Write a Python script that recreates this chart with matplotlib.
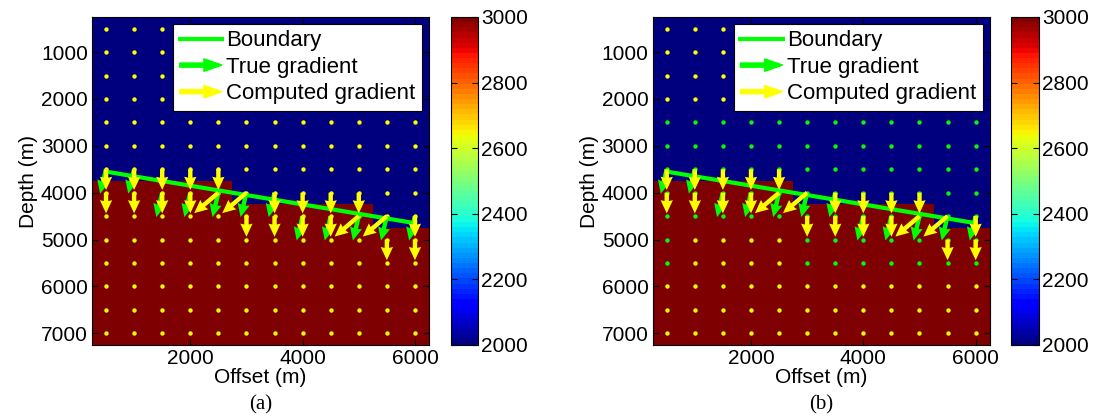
import numpy as np
import matplotlib
matplotlib.use('Agg')
import matplotlib.pyplot as plt
import matplotlib.patches as mpatches
from matplotlib.lines import Line2D
from matplotlib.legend_handler import HandlerPatch

plt.rcParams['font.family'] = ['Liberation Sans', 'DejaVu Sans']

# model grid (m)
offsets = [500, 1000, 1500, 2000, 2500, 3000, 3500, 4000, 4500, 5000, 5500, 6000]
depths = [500, 1000, 1500, 2000, 2500, 3000, 3500, 4000, 4500, 5000, 5500, 6000, 6500, 7000]
# depth of the top of the fast layer in each column
layer_top = [3750, 3750, 3750, 3750, 3750, 4250, 4250, 4250, 4250, 4250, 4750, 4750]
v_slow = 2000
v_fast = 3000

# dipping boundary
boundary_x = [500, 6000]
boundary_z = [3550, 4650]

# true gradient (normal to the boundary)
true_x = [500, 1000, 1500, 2000, 2500, 3000, 3500, 4000, 4500, 5000, 5500, 6000]
true_z = [3500, 3500, 4000, 4000, 4000, 4000, 4000, 4500, 4500, 4500, 4500, 4500]
true_u = [-105, -105, -105, -105, -105, -105, -105, -105, -105, -105, -105, -105]
true_w = [520, 520, 520, 520, 520, 520, 520, 520, 520, 520, 520, 520]

# computed gradient
comp_x = [500, 500, 1000, 1000, 1500, 1500, 2000, 2000, 2500, 2500, 3000, 3000,
          3500, 3500, 4000, 4000, 4500, 4500, 5000, 5000, 5500, 5500, 6000, 6000]
comp_z = [3500, 4000, 3500, 4000, 3500, 4000, 3500, 4000, 3500, 4000, 4000, 4500,
          4000, 4500, 4000, 4500, 4000, 4500, 4000, 4500, 4500, 5000, 4500, 5000]
comp_u = [0, 0, 0, 0, 0, 0, 0, 0, 0, -430, -430, 0,
          0, 0, 0, 0, 0, 0, 0, -430, -430, 0, 0, 0]
comp_w = [440, 440, 440, 440, 440, 440, 440, 440, 440, 435, 435, 440,
          440, 440, 440, 440, 440, 440, 440, 435, 435, 440, 440, 440]

# grid points shown green in panel (b)
green_dots_b = [
    [0, 0, 0, 0, 0, 0, 0, 0, 0, 0, 0, 0],
    [0, 0, 0, 0, 0, 0, 0, 0, 0, 0, 0, 0],
    [0, 0, 0, 0, 0, 0, 0, 0, 0, 0, 0, 0],
    [0, 0, 0, 0, 0, 0, 0, 0, 0, 0, 0, 0],
    [1, 1, 1, 1, 1, 1, 1, 1, 1, 1, 1, 1],
    [1, 1, 1, 1, 1, 1, 1, 1, 1, 1, 1, 1],
    [1, 1, 1, 1, 1, 1, 1, 1, 1, 1, 1, 1],
    [1, 1, 1, 1, 1, 1, 1, 1, 1, 1, 1, 1],
    [1, 1, 1, 1, 1, 1, 1, 1, 1, 1, 1, 1],
    [1, 0, 0, 0, 0, 1, 1, 1, 1, 1, 1, 1],
    [1, 0, 0, 0, 0, 1, 1, 1, 1, 1, 1, 1],
    [0, 0, 0, 0, 0, 0, 0, 0, 0, 0, 0, 0],
    [0, 0, 0, 0, 0, 0, 0, 0, 0, 0, 0, 0],
    [0, 0, 0, 0, 0, 0, 0, 0, 0, 0, 0, 0],
]
green_dots_a = np.zeros((len(depths), len(offsets)), dtype=int)

YELLOW = '#ffff00'
GREEN = '#00ff00'
FS = 15

W, H = 1095, 420
fig = plt.figure(figsize=(W / 100, H / 100), dpi=100)

model = np.where(np.array(depths)[:, None] > np.array(layer_top)[None, :], v_fast, v_slow)
cmap = plt.get_cmap('jet', 64)
xx, zz = np.meshgrid(offsets, depths)


def arrow_patch(legend, orig_handle, xdescent, ydescent, width, height, fontsize):
    return mpatches.FancyArrow(0, height / 2, width, 0, width=3.0, head_width=9,
                               head_length=13, length_includes_head=True)


def panel(x0, green_mask, label):
    ax = fig.add_axes([x0 / W, 1 - 345 / H, 337 / W, 328 / H])
    im = ax.imshow(model, cmap=cmap, vmin=2000, vmax=3000, aspect='auto',
                   extent=[250, 6250, 7250, 250], interpolation='nearest')
    mask = np.array(green_mask, dtype=bool)
    ax.scatter(xx[~mask], zz[~mask], s=10, color=YELLOW, linewidths=0, zorder=2)
    ax.scatter(xx[mask], zz[mask], s=10, color=GREEN, linewidths=0, zorder=2)
    ax.plot(boundary_x, boundary_z, color=GREEN, lw=3, zorder=3)
    ax.quiver(true_x, true_z, true_u, true_w, angles='xy', scale_units='xy', scale=1,
              color=GREEN, width=0.013, headwidth=2.8, headlength=3.0, headaxislength=2.8,
              zorder=4)
    ax.quiver(comp_x, comp_z, comp_u, comp_w, angles='xy', scale_units='xy', scale=1,
              color=YELLOW, width=0.013, headwidth=2.8, headlength=3.0, headaxislength=2.8,
              zorder=5)
    ax.set_xlim(250, 6250)
    ax.set_ylim(7250, 250)
    ax.set_xticks([2000, 4000, 6000])
    ax.set_yticks([1000, 2000, 3000, 4000, 5000, 6000, 7000])
    ax.tick_params(direction='in', top=True, right=True, length=4, labelsize=FS, pad=3)
    ax.set_xlabel('Offset (m)', fontsize=FS, labelpad=0)
    ax.set_ylabel('Depth (m)', fontsize=FS, labelpad=2)

    h_bound = Line2D([], [], color=GREEN, lw=3)
    h_true = mpatches.Patch(color=GREEN)
    h_comp = mpatches.Patch(color=YELLOW)
    leg = ax.legend([h_bound, h_true, h_comp], ['Boundary', 'True gradient', 'Computed gradient'],
                    loc='upper right', fontsize=16, handlelength=1.9, handletextpad=0.2,
                    labelspacing=0.25, borderpad=0.3, borderaxespad=0.3,
                    fancybox=False, framealpha=1, edgecolor='black',
                    handler_map={h_true: HandlerPatch(patch_func=arrow_patch),
                                 h_comp: HandlerPatch(patch_func=arrow_patch)})
    leg.get_frame().set_linewidth(0.8)
    leg.set_zorder(10)

    cax = fig.add_axes([(x0 + 358.7) / W, 1 - 345 / H, 27.6 / W, 328 / H])
    cb = fig.colorbar(im, cax=cax, ticks=[2000, 2200, 2400, 2600, 2800, 3000])
    cb.ax.tick_params(direction='in', left=True, right=True, length=4, labelsize=FS, pad=2)
    cb.outline.set_linewidth(0.8)

    fig.text((x0 + 168.5) / W, 1 - 405 / H, label, fontsize=FS,
             family='Liberation Serif', ha='center', va='center')


panel(92, green_dots_a, '(a)')
panel(652.7, green_dots_b, '(b)')

fig.savefig('out.png', dpi=100)
